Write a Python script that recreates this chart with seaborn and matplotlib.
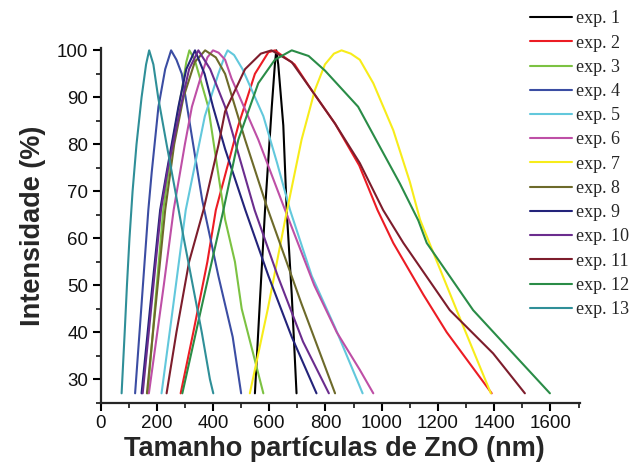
import matplotlib
matplotlib.use("Agg")
import matplotlib.pyplot as plt
from matplotlib.ticker import MultipleLocator
import pandas as pd
import seaborn as sns

sns.set_style("ticks")
plt.rcParams["font.family"] = ["Liberation Sans", "DejaVu Sans"]

# ---------------------------------------------------
# Data (size nm, intensity %)
# ---------------------------------------------------

exp1_x = [549, 568, 585, 609, 620, 625, 632, 650, 662, 680, 697]
exp1_y = [27, 48, 66, 88, 97, 100, 97, 84, 66, 48, 27]

exp2_x = [285, 330, 380, 410, 450, 490, 549, 597, 620, 690, 751, 834, 920, 985, 1041, 1148, 1231, 1391]
exp2_y = [27, 40, 55, 66, 75, 84, 95, 99.6, 100, 97, 91.5, 84.4, 75.5, 66, 59, 48, 40, 27]

exp3_x = [168, 193, 223, 255, 289, 305, 316, 335, 383, 443, 478, 502, 579]
exp3_y = [27, 45, 66, 80, 91.5, 97.5, 100, 98, 88, 64, 55, 45, 27]

exp4_x = [123, 146, 170, 182, 206, 230, 251, 270, 289, 324, 362, 419, 470, 500]
exp4_y = [27, 46, 66, 74, 88, 96, 100, 98, 95, 82, 68, 52, 39, 27]

exp5_x = [217, 257, 303, 371, 419, 440, 452, 475, 505, 579, 628, 674, 751, 834, 932]
exp5_y = [27, 45, 66, 86, 95, 98.5, 100, 99, 96, 86, 76, 66, 52, 41, 27]

exp6_x = [172, 225, 260, 300, 325, 355, 380, 400, 420, 443, 466, 561, 650, 760, 840, 922, 970]
exp6_y = [27, 50, 66, 80, 88, 94, 98.5, 100, 99.5, 98, 94, 81, 67, 50, 40, 32, 27]

exp7_x = [531, 595, 660, 715, 762, 798, 830, 857, 890, 922, 970, 1041, 1100, 1136, 1183, 1278, 1388]
exp7_y = [27, 45, 65, 81, 91.5, 97, 99.3, 100, 99.3, 98, 93, 83, 72, 64, 57, 43, 27]

exp8_x = [165, 195, 230, 262, 295, 335, 372, 410, 443, 514, 590, 715, 834]
exp8_y = [27, 45, 66, 80, 90, 97.5, 100, 98.5, 95, 81, 67, 46, 27]

exp9_x = [146, 176, 212, 235, 277, 305, 336, 370, 400, 443, 515, 597, 680, 768]
exp9_y = [27, 45, 66, 74, 88, 96, 100, 95, 88, 79, 66, 52, 39, 27]

exp10_x = [150, 180, 215, 240, 285, 315, 348, 390, 443, 495, 548, 630, 720, 812]
exp10_y = [27, 45, 66, 75, 88, 96, 100, 96, 88, 77, 66, 52, 38, 27]

exp11_x = [235, 270, 315, 366, 420, 443, 514, 570, 608, 680, 751, 834, 922, 1005, 1077, 1242, 1396, 1509]
exp11_y = [27, 40, 55, 66, 80, 87, 96, 99.3, 100, 97.5, 91.5, 84.4, 76, 66, 59, 44.7, 35.5, 27]

exp12_x = [291, 358, 437, 490, 561, 620, 680, 740, 798, 916, 994, 1065, 1130, 1160, 1325, 1456, 1598]
exp12_y = [27, 45, 66, 81, 93, 98, 100, 98.8, 95.7, 88, 79.4, 71.6, 63.8, 59, 44.7, 36.2, 27]

exp13_x = [75, 86, 94, 103, 114, 128, 146, 162, 173, 188, 205, 235, 266, 296, 328, 360, 389, 401]
exp13_y = [27, 40, 50, 60, 70, 80, 90, 97, 100, 97, 90, 80, 70, 60, 50, 40, 30, 27]

labels = ["exp. 1", "exp. 2", "exp. 3", "exp. 4", "exp. 5", "exp. 6", "exp. 7",
          "exp. 8", "exp. 9", "exp. 10", "exp. 11", "exp. 12", "exp. 13"]

colors = ["#000000", "#ec1c24", "#7cc242", "#3b4da3", "#62c8dc", "#be4fa6",
          "#f7ec1a", "#6d6a2a", "#23237a", "#6b2d8e", "#7d1d2c", "#2a8c47", "#2f8f98"]

series = [(exp1_x, exp1_y), (exp2_x, exp2_y), (exp3_x, exp3_y), (exp4_x, exp4_y),
          (exp5_x, exp5_y), (exp6_x, exp6_y), (exp7_x, exp7_y), (exp8_x, exp8_y),
          (exp9_x, exp9_y), (exp10_x, exp10_y), (exp11_x, exp11_y),
          (exp12_x, exp12_y), (exp13_x, exp13_y)]

rows = []
for lab, (xs, ys) in zip(labels, series):
    for xv, yv in zip(xs, ys):
        rows.append({"exp": lab, "size": xv, "intensity": yv})
df = pd.DataFrame(rows)

# ---------------------------------------------------
# Plot
# ---------------------------------------------------

fig = plt.figure(figsize=(6.29, 4.72), dpi=100)
ax = fig.add_axes([0.1598, 0.1468, 0.7623, 0.7515])

sns.lineplot(data=df, x="size", y="intensity", hue="exp",
             palette=dict(zip(labels, colors)), hue_order=labels,
             estimator=None, sort=False, linewidth=1.5, ax=ax)

ax.set_xlim(0, 1705)
ax.set_ylim(25, 100.5)
ax.xaxis.set_major_locator(MultipleLocator(200))
ax.xaxis.set_minor_locator(MultipleLocator(100))
ax.yaxis.set_major_locator(MultipleLocator(10))
ax.yaxis.set_minor_locator(MultipleLocator(5))
ax.set_yticks([30, 40, 50, 60, 70, 80, 90, 100])

for side in ["top", "right"]:
    ax.spines[side].set_visible(False)
for side in ["left", "bottom"]:
    ax.spines[side].set_linewidth(1.6)

ax.tick_params(which="major", direction="out", length=6, width=1.5,
               labelsize=13.5, pad=3, color="black", labelcolor="#111111")
ax.tick_params(which="minor", direction="out", length=3.5, width=1.3)

ax.set_xlabel("Tamanho partículas de ZnO (nm)", fontsize=19.5,
              fontweight="bold", labelpad=3)
ax.set_ylabel("Intensidade (%)", fontsize=19.5, fontweight="bold", labelpad=8)
ax.xaxis.label.set_x(0.487)

handles, labs = ax.get_legend_handles_labels()
ax.get_legend().remove()
fig.legend(handles, labs, loc="upper left", bbox_to_anchor=(0.843, 0.978),
           frameon=False, borderpad=0, borderaxespad=0, handlelength=2.3,
           handletextpad=0.25, labelspacing=0.40,
           prop={"family": "Liberation Serif", "size": 13})

fig.savefig("out.png", dpi=100)
